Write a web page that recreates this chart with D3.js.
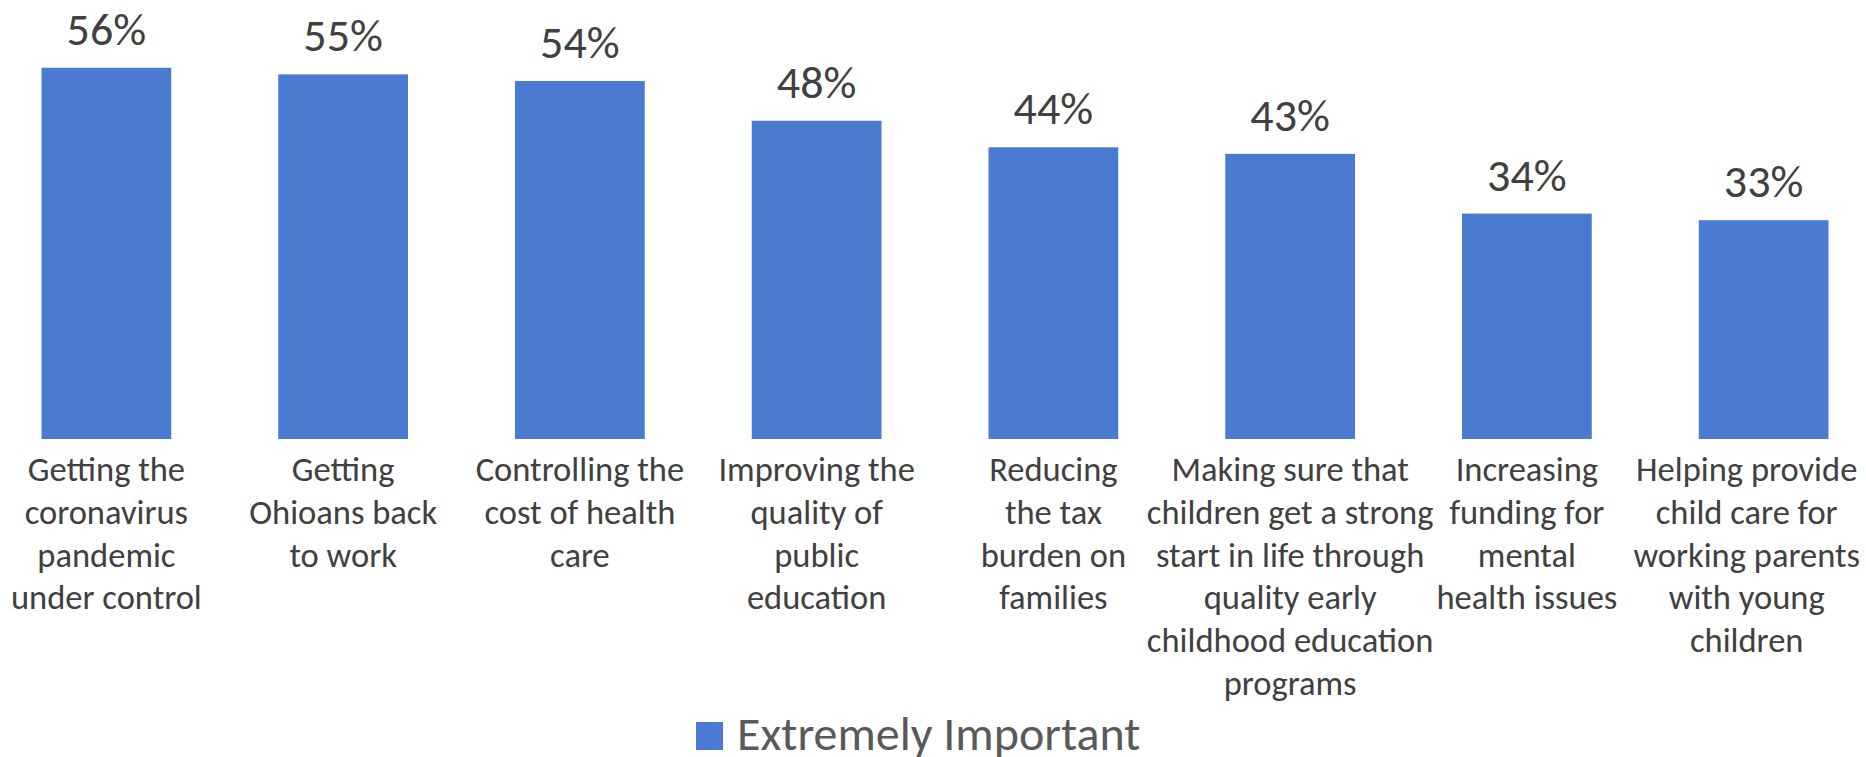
<!DOCTYPE html>
<html><head><meta charset="utf-8">
<script src="https://cdn.jsdelivr.net/npm/d3@7"></script>
<style>
html,body{margin:0;padding:0;background:#fff;}
svg{display:block;font-family:Carlito, Calibri, Lato, sans-serif;}
</style></head>
<body>
<svg id="chart" width="1866" height="757"></svg>
<script>
const categories = [
  ["Getting the","coronavirus","pandemic","under control"],
  ["Getting","Ohioans back","to work"],
  ["Controlling the","cost of health","care"],
  ["Improving the","quality of","public","education"],
  ["Reducing","the tax","burden on","families"],
  ["Making sure that","children get a strong","start in life through","quality early","childhood education","programs"],
  ["Increasing","funding for","mental","health issues"],
  ["Helping provide","child care for","working parents","with young","children"]
];
const values = [56, 55, 54, 48, 44, 43, 34, 33];
const seriesName = "Extremely Important";

const svg = d3.select("#chart");
const keys = categories.map((c,i)=>i);
const x = d3.scaleBand().domain(keys).range([-12, 1882]).paddingInner(0.452).paddingOuter(0.226);
const y = d3.scaleLinear().domain([0, 60]).range([439, 41.2]);

svg.append("g").selectAll("rect").data(values).join("rect")
  .attr("x",(d,i)=>x(i)).attr("width",x.bandwidth())
  .attr("y",d=>y(d)).attr("height",d=>y(0)-y(d))
  .attr("fill","#4a7bd0");

svg.append("g").selectAll("text").data(values).join("text")
  .attr("x",(d,i)=>x(i)+x.bandwidth()/2).attr("y",d=>y(d)-23)
  .attr("text-anchor","middle").attr("font-size",46).attr("fill","#404040")
  .text(d=>d+"%");

const lab = svg.append("g").selectAll("text").data(categories).join("text")
  .attr("text-anchor","middle").attr("font-size",34.5).attr("fill","#404040");
lab.selectAll("tspan").data(d=>d).join("tspan")
  .attr("x",0).attr("y",(d,j)=>j*42.8).text(d=>d);
lab.each(function(d,i){
  const w = d3.max(d3.select(this).selectAll("tspan").nodes(), n=>n.getComputedTextLength());
  let cx = x(i)+x.bandwidth()/2;
  cx = Math.min(cx, 1860 - w/2);
  cx = Math.max(cx, 6 + w/2);
  d3.select(this).attr("transform",`translate(${cx},481)`);
});

const leg = svg.append("g");
leg.append("rect").attr("x",696).attr("y",722).attr("width",27).attr("height",28).attr("fill","#4a7bd0");
leg.append("text").attr("x",737).attr("y",750).attr("font-size",48).attr("fill","#595959").text(seriesName);
</script>
</body></html>
